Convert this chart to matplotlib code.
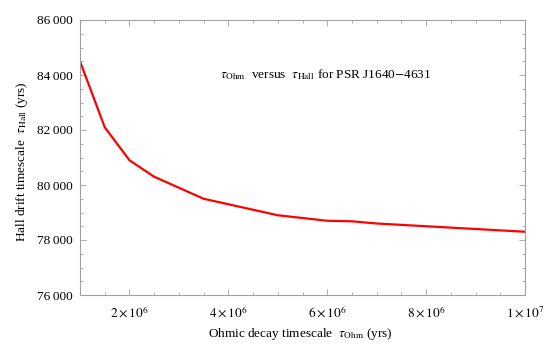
import matplotlib
matplotlib.use("Agg")
import matplotlib.pyplot as plt
from matplotlib.ticker import MultipleLocator, FuncFormatter

plt.rcParams['font.family'] = ['Liberation Serif', 'DejaVu Serif']
plt.rcParams['mathtext.fontset'] = 'stix'

# data
tau_ohm = [1.0e6, 1.5e6, 2.0e6, 2.5e6, 3.5e6, 5.0e6, 6.0e6, 6.5e6, 7.0e6, 8.0e6, 9.0e6, 1.0e7]
tau_hall = [84500, 82100, 80900, 80300, 79500, 78900, 78700, 78680, 78600, 78500, 78400, 78300]
xticks = [2e6, 4e6, 6e6, 8e6, 1e7]
xticklabels = [r'$2\times10^{6}$', r'$4\times10^{6}$', r'$6\times10^{6}$',
               r'$8\times10^{6}$', r'$1\times10^{7}$']
yticks = [76000, 78000, 80000, 82000, 84000, 86000]

fig = plt.figure(figsize=(5.5, 3.52), dpi=100)
ax = fig.add_axes([80/550, 1-295/352, 445/550, 275/352])

ax.plot(tau_ohm, tau_hall, color='#ff0000', lw=1.6, solid_joinstyle='round')

ax.set_xlim(1e6, 1e7)
ax.set_ylim(76000, 86000)
ax.set_xticks(xticks)
ax.set_xticklabels(xticklabels)
ax.set_yticks(yticks)
ax.yaxis.set_major_formatter(FuncFormatter(lambda v, p: '%d\u2009%03d' % (v // 1000, v % 1000)))
ax.xaxis.set_minor_locator(MultipleLocator(5e5))
ax.yaxis.set_minor_locator(MultipleLocator(500))

for s in ax.spines.values():
    s.set_color('#a0a0a0')
    s.set_linewidth(0.8)
ax.tick_params(which='both', direction='in', top=True, right=True,
               color='#a0a0a0', labelsize=9.5)
ax.tick_params(axis='x', pad=7)
ax.tick_params(axis='y', pad=5)
ax.tick_params(which='major', length=4, width=0.6)
ax.tick_params(which='minor', length=2.5, width=0.6)

ax.set_xlabel(r'Ohmic decay timescale  $\tau_{\mathrm{Ohm}}$ (yrs)', fontsize=9.5)
ax.set_ylabel(r'Hall drift timescale  $\tau_{\mathrm{Hall}}$ (yrs)', fontsize=9.5)
ax.xaxis.set_label_coords(0.494, -0.142)
ax.yaxis.set_label_coords(-0.13, 0.484)
ax.xaxis.label.set_va('center')
ax.yaxis.label.set_va('center')

ax.text(0.315, 0.80, r'$\tau_{\mathrm{Ohm}}$  versus  $\tau_{\mathrm{Hall}}$ for PSR J1640$-$4631',
        transform=ax.transAxes, fontsize=9.5, va='center', ha='left')

fig.savefig('out.png', dpi=100)
